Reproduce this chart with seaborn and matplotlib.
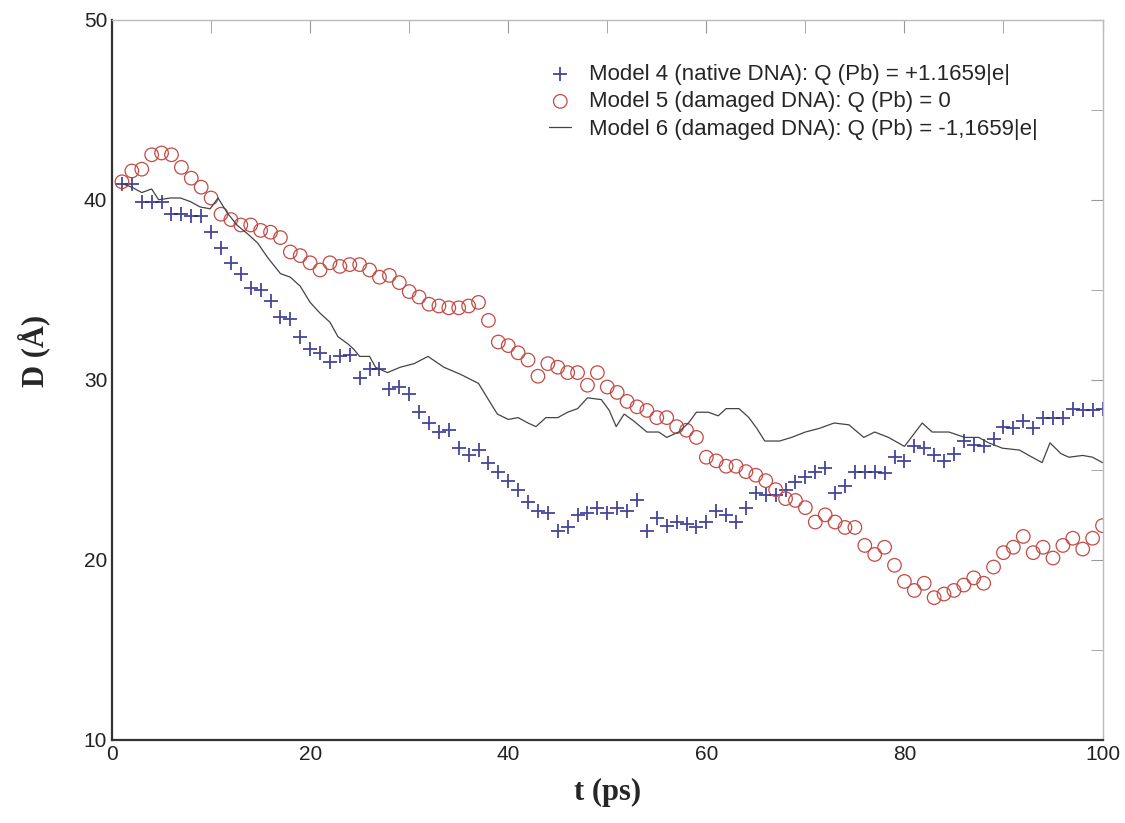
import numpy as np
import pandas as pd
import matplotlib.pyplot as plt
import seaborn as sns

# Model 4 (native DNA), one point per ps
t4 = list(range(1, 101))
d4 = [40.9, 40.9, 39.9, 39.9, 39.9, 39.2, 39.2, 39.1, 39.1, 38.2,
      37.3, 36.5, 35.9, 35.1, 35.0, 34.4, 33.5, 33.4, 32.4, 31.7,
      31.5, 31.0, 31.3, 31.4, 30.1, 30.6, 30.6, 29.5, 29.6, 29.2,
      28.2, 27.6, 27.1, 27.2, 26.2, 25.8, 26.1, 25.4, 24.9, 24.4,
      23.9, 23.2, 22.7, 22.6, 21.6, 21.8, 22.5, 22.6, 22.9, 22.6,
      22.9, 22.7, 23.3, 21.6, 22.3, 21.9, 22.1, 22.0, 21.8, 22.1,
      22.7, 22.5, 22.1, 22.9, 23.7, 23.6, 23.6, 23.9, 24.3, 24.6,
      24.9, 25.1, 23.7, 24.1, 24.9, 24.9, 24.9, 24.8, 25.7, 25.5,
      26.3, 26.2, 25.8, 25.5, 25.9, 26.6, 26.4, 26.3, 26.7, 27.4,
      27.3, 27.7, 27.3, 27.9, 27.9, 27.9, 28.4, 28.3, 28.3, 28.4]

# Model 5 (damaged DNA, Q = 0)
t5 = list(range(1, 101))
d5 = [41.0, 41.6, 41.7, 42.5, 42.6, 42.5, 41.8, 41.2, 40.7, 40.1,
      39.2, 38.9, 38.6, 38.6, 38.3, 38.2, 37.9, 37.1, 36.9, 36.5,
      36.1, 36.5, 36.3, 36.4, 36.4, 36.1, 35.7, 35.8, 35.4, 34.9,
      34.6, 34.2, 34.1, 34.0, 34.0, 34.1, 34.3, 33.3, 32.1, 31.9,
      31.5, 31.1, 30.2, 30.9, 30.7, 30.4, 30.4, 29.7, 30.4, 29.6,
      29.3, 28.8, 28.5, 28.3, 27.9, 27.9, 27.4, 27.2, 26.8, 25.7,
      25.5, 25.2, 25.2, 24.9, 24.7, 24.4, 23.9, 23.4, 23.3, 22.9,
      22.1, 22.5, 22.1, 21.8, 21.8, 20.8, 20.3, 20.7, 19.7, 18.8,
      18.3, 18.7, 17.9, 18.1, 18.3, 18.6, 19.0, 18.7, 19.6, 20.4,
      20.7, 21.3, 20.4, 20.7, 20.1, 20.8, 21.2, 20.6, 21.2, 21.9]

# Model 6 (damaged DNA, Q = -1.1659|e|)
t6 = [1, 2, 3, 4, 4.7, 5.9, 6.9, 7.9, 8.9, 9.9, 10.7, 11.6, 12.6, 13.7,
      14.7, 15.7, 17, 18, 19, 20, 21, 22, 22.8, 23.8, 24.4, 25, 26, 26.6,
      27.8, 29.1, 30.5, 31.9, 33.5, 35.2, 37, 38, 38.9, 40, 41, 42, 42.8,
      43.8, 45, 46, 47, 48, 49.4, 50.2, 50.9, 51.7, 52.7, 54, 55.2, 56,
      57.2, 58.2, 59, 60.2, 61.2, 62, 63.3, 64.3, 65.1, 65.9, 67.4, 68.6,
      70, 71.4, 72.9, 74.4, 75.9, 77, 78.4, 80, 81.8, 82.8, 84.5, 86.1,
      87.5, 88.5, 89.9, 91.6, 92.9, 93.9, 94.7, 95.8, 96.6, 98, 99, 100]
d6 = [40.9, 40.7, 40.4, 40.6, 40.0, 40.1, 40.1, 39.9, 39.6, 39.5, 40.1,
      39.3, 38.6, 38.1, 37.6, 36.8, 35.9, 35.7, 35.2, 34.3, 33.7, 33.2,
      32.4, 32.0, 31.7, 31.3, 31.3, 30.7, 30.4, 30.7, 30.9, 31.3, 30.7,
      30.3, 29.8, 28.9, 28.1, 27.8, 27.9, 27.6, 27.4, 27.9, 27.9, 28.2,
      28.4, 29.0, 28.9, 28.3, 27.4, 28.1, 27.7, 27.1, 27.1, 26.8, 27.1,
      27.6, 28.2, 28.2, 28.0, 28.4, 28.4, 27.9, 27.3, 26.6, 26.6, 26.8,
      27.1, 27.3, 27.6, 27.5, 26.8, 27.1, 26.8, 26.3, 27.6, 27.1, 27.1,
      26.8, 26.8, 26.5, 26.2, 26.1, 25.7, 25.4, 26.5, 25.9, 25.7, 25.8,
      25.7, 25.4]

labels = ["Model 4 (native DNA): Q (Pb) = +1.1659|e|",
          "Model 5 (damaged DNA): Q (Pb) = 0",
          "Model 6 (damaged DNA): Q (Pb) = -1,1659|e|"]

sns.set_style("white")
plt.rcParams['font.family'] = ['Liberation Sans', 'DejaVu Sans']

fig = plt.figure(figsize=(11.25, 8.23), dpi=100)
ax = fig.add_axes([0.0996, 0.101, 0.8804, 0.875])

sns.scatterplot(x=t4, y=d4, ax=ax, marker='+', s=100, color='#26268a',
                linewidth=1.3, alpha=0.85, label=labels[0])
sns.scatterplot(x=t5, y=d5, ax=ax, marker='o', s=95, facecolor='none',
                edgecolor='#c44a44', linewidth=0.9, label=labels[1])
sns.lineplot(x=t6, y=d6, ax=ax, color='#444444', linewidth=0.9,
             estimator=None, sort=False, label=labels[2])

ax.set_xlim(0, 100)
ax.set_ylim(10, 50)
ax.set_xticks([0, 20, 40, 60, 80, 100])
ax.set_xticks([10, 30, 50, 70, 90], minor=True)
ax.set_yticks([10, 20, 30, 40, 50])
ax.set_yticks([15, 25, 35, 45], minor=True)
ax.tick_params(axis='both', which='both', direction='in', colors='#999999',
               labelcolor='#222222', labelsize=15, top=True, right=True,
               length=9)

for side in ['top', 'right']:
    ax.spines[side].set_color('#bbbbbb')
    ax.spines[side].set_linewidth(1.0)
for side in ['left', 'bottom']:
    ax.spines[side].set_color('#333333')
    ax.spines[side].set_linewidth(1.6)

ax.set_xlabel("t (ps)", family='Liberation Serif', fontsize=22, fontweight='bold',
              labelpad=10)
ax.set_ylabel("D (Å)", family='Liberation Serif', fontsize=22, fontweight='bold')
ax.yaxis.set_label_coords(-0.062, 0.54)

leg = ax.legend(frameon=False, loc='upper right', bbox_to_anchor=(0.955, 0.967),
                fontsize=16, handlelength=1.0, handletextpad=0.8,
                labelspacing=0.3)

fig.savefig("out.png", dpi=100)
